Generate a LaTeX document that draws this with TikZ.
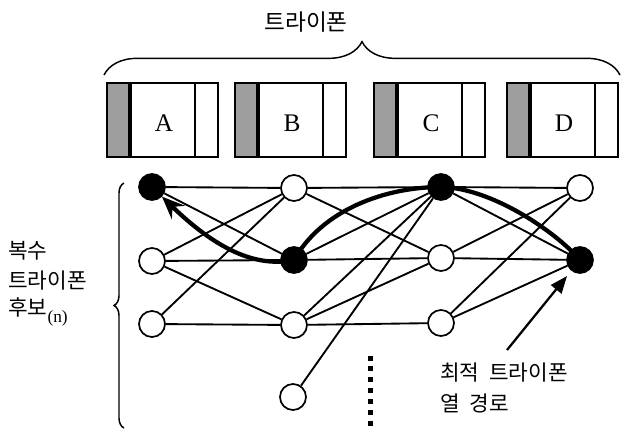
\documentclass[tikz,border=0pt]{standalone}
\usepackage{fontspec}
\setmainfont{Liberation Serif}
\newfontfamily\kr{Noto Sans CJK KR}
\usetikzlibrary{arrows.meta,decorations.pathreplacing}
\begin{document}
\begin{tikzpicture}[x=0.75pt,y=-0.75pt,
  edge/.style={line width=1.4pt},
  vopen/.style={circle,draw,line width=1.3pt,fill=white,minimum size=19.5pt,inner sep=0pt},
  vfill/.style={vopen,fill=black},
  bestpath/.style={line width=3.2pt,-{Stealth[length=17pt,width=14pt,inset=6pt]}},
  pointer/.style={line width=1.7pt,-{Triangle[length=13pt,width=10pt]},shorten >=5pt},
  krlabel/.style={font=\kr\fontsize{16pt}{19pt}\selectfont,inner sep=0pt},
  bracestyle/.style={line width=1.1pt,decorate},
  letter/.style={font=\fontsize{19pt}{22pt}\selectfont,inner sep=0pt}
]
\useasboundingbox (0,0) rectangle (640,436);

% title and top brace
\node[krlabel,font=\kr\fontsize{17pt}{20pt}\selectfont] (title) at (306,22) {트라이폰};
\draw[bracestyle,decoration={brace,amplitude=25pt,aspect=0.5}] (104,75) -- (620,75);

% triphone boxes
\foreach \x/\l/\r in {107/A/218, 235/B/346, 374/C/485, 507/D/618}{
  \fill[black!38] (\x,83) rectangle ({\x+23},157);
  \draw[line width=1.5pt] (\x,83) rectangle (\r,157);
  \draw[line width=2.4pt] ({\x+23},83) -- ({\x+23},157);
  \draw[line width=1.5pt] ({\r-23},83) -- ({\r-23},157);
  \node[letter] (lbl\l) at ({\x+57},123) {\l};
}

% lattice nodes
\node[vfill] (a1) at (152,187) {};
\node[vopen] (a2) at (152,261) {};
\node[vopen] (a3) at (152,324) {};
\node[vopen] (b1) at (294,188) {};
\node[vfill] (b2) at (294,260) {};
\node[vopen] (b3) at (294,325) {};
\node[vopen] (b4) at (293,397) {};
\node[vfill] (c1) at (441,187) {};
\node[vopen] (c2) at (441,258) {};
\node[vopen] (c3) at (441,323) {};
\node[vopen] (d1) at (580,188) {};
\node[vfill] (d2) at (580,260) {};

% edges
\foreach \s/\t in {a1/b1,a1/b2,a2/b1,a2/b2,a2/b3,a3/b1,a3/b3,
  b1/c1,b1/c2,b2/c1,b2/c2,b3/c1,b3/c2,b3/c3,b4/c1,
  c1/d1,c1/d2,c2/d1,c2/d2,c3/d1,c3/d2}{
  \draw[edge] (\s) -- (\t);
}

% best path
\draw[bestpath] (d2.center) .. controls (556,232) and (492,188) .. (c1.center)
  .. controls (385,187) and (322,210) .. (b2.center)
  .. controls (255,268) and (215,248) .. (a1);

% dotted continuation
\foreach \i in {0,...,6}{
  \fill (367.5,{355.5+\i*10.9}) rectangle +(5,5);
}

% left brace and label
\draw[bracestyle,decoration={brace,amplitude=7.5pt,aspect=0.5}] (124,428) -- (124,183);
\node[krlabel,anchor=west] (lab1) at (8,251) {복수};
\node[krlabel,anchor=west] (lab2) at (8,281) {트라이폰};
\node[krlabel,anchor=west] (lab3) at (8,312) {후보\raisebox{-5pt}{\rmfamily\fontsize{13pt}{15pt}\selectfont(n)}};

% bottom-right label and pointer
\node[krlabel,anchor=west] (opt1) at (440,373) {최적\hspace{0.45em}트라이폰};
\node[krlabel,anchor=west] (opt2) at (440,403) {열\hspace{0.45em}경로};
\coordinate (ptr) at (507,350);
\draw[pointer] (ptr) -- (d2);
\end{tikzpicture}
\end{document}
